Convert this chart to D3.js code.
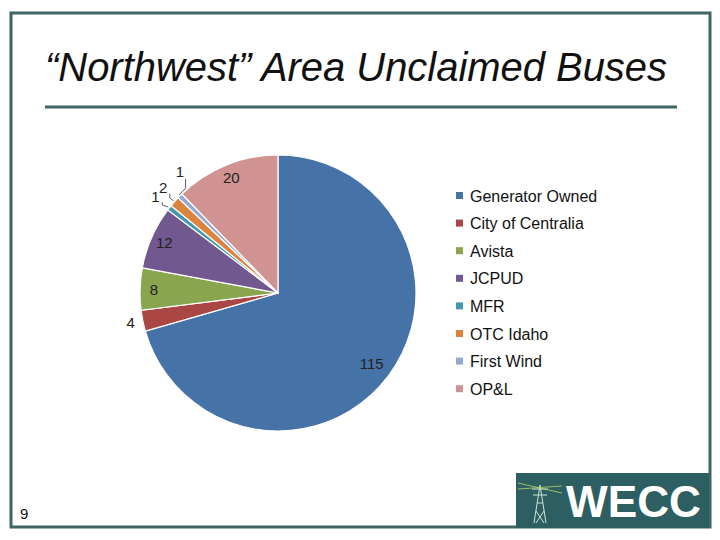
<!DOCTYPE html>
<html>
<head>
<meta charset="utf-8">
<script src="https://cdn.jsdelivr.net/npm/d3@7"></script>
<style>
  body { margin: 0; background: #fff; }
  text { font-family: "Liberation Sans", Arial, sans-serif; }
</style>
</head>
<body>
<div class="chart"></div>
<script>
var svgWidth = 720;
var svgHeight = 540;

// chart data
var categories = ["Generator Owned", "City of Centralia", "Avista", "JCPUD", "MFR", "OTC Idaho", "First Wind", "OP&L"];
var values = [115, 4, 8, 12, 1, 2, 1, 20];
var colors = ["#4572A7", "#AA4643", "#89A54E", "#71588F", "#4198AF", "#DB843D", "#93A9CF", "#D19392"];

var svg = d3.select(".chart")
  .append("svg")
  .attr("width", svgWidth)
  .attr("height", svgHeight);

// slide frame
svg.append("rect")
  .attr("x", 11).attr("y", 13)
  .attr("width", 699).attr("height", 514)
  .attr("fill", "none")
  .attr("stroke", "#3f6565")
  .attr("stroke-width", 3);

// title
svg.append("text")
  .attr("x", 45).attr("y", 81)
  .attr("font-size", 40)
  .attr("font-style", "italic")
  .attr("textLength", 622)
  .attr("lengthAdjust", "spacingAndGlyphs")
  .style("font-family", "'Liberation Sans Narrow', 'Liberation Sans', Arial, sans-serif")
  .attr("fill", "#111")
  .text("\u201CNorthwest\u201D Area Unclaimed Buses");

svg.append("line")
  .attr("x1", 45).attr("x2", 677)
  .attr("y1", 107).attr("y2", 107)
  .attr("stroke", "#3f6565")
  .attr("stroke-width", 3);

// pie
var radius = 138;
var chartGroup = svg.append("g")
  .attr("transform", "translate(278, 293)");

var pie = d3.pie().sort(null).value(d => d.value);
var data = categories.map((c, i) => ({ name: c, value: values[i], color: colors[i] }));
var arcs = pie(data);

var arc = d3.arc().innerRadius(0).outerRadius(radius);

chartGroup.selectAll("path")
  .data(arcs)
  .enter()
  .append("path")
  .attr("d", arc)
  .attr("fill", d => d.data.color)
  .attr("stroke", "#fff")
  .attr("stroke-width", 1.2);

// label placement: big slices inside, thin ones outside with a leader
function polar(angle, r) {
  return [Math.sin(angle) * r, -Math.cos(angle) * r];
}
var total = d3.sum(values);
arcs.forEach(function(d, i) {
  var mid = (d.startAngle + d.endAngle) / 2;
  var share = d.data.value / total;
  var r, nudge = 0;
  if (share > 0.3) r = radius * 0.85;
  else if (share >= 0.045) r = radius * 0.9;
  else if (share >= 0.02) r = radius * 1.09;
  else r = radius * 1.13;
  if (i === 6) nudge = 0.11; // keep the two tiny labels apart
  if (i === 5) nudge = 0.02;
  var p = polar(mid + nudge, r);
  chartGroup.append("text")
    .attr("x", p[0]).attr("y", p[1])
    .attr("text-anchor", "middle")
    .attr("dy", "0.35em")
    .attr("font-size", 15)
    .attr("fill", "#222")
    .text(d.data.value);
  if (d.data.value <= 2) {
    var a = polar(mid, radius * 1.01);
    var b = polar(mid + nudge, r - 9);
    chartGroup.append("polyline")
      .attr("points", [a, [b[0], a[1] + (b[1] - a[1]) * 0.4], b].map(q => q.join(",")).join(" "))
      .attr("fill", "none")
      .attr("stroke", "#333")
      .attr("stroke-width", 0.8);
  }
});

// legend
var legend = svg.append("g").attr("transform", "translate(456, 196)");
var rowH = 27.6;
var rows = legend.selectAll("g")
  .data(data)
  .enter()
  .append("g")
  .attr("transform", (d, i) => `translate(0, ${i * rowH})`);
rows.append("rect")
  .attr("x", 0).attr("y", -4)
  .attr("width", 7).attr("height", 7)
  .attr("fill", d => d.color);
rows.append("text")
  .attr("x", 14).attr("y", 0)
  .attr("dy", "0.35em")
  .attr("font-size", 16)
  .attr("fill", "#111")
  .text(d => d.name);

// page number
svg.append("text")
  .attr("x", 20).attr("y", 519)
  .attr("font-size", 15)
  .attr("fill", "#111")
  .text("9");

// WECC logo
var logo = svg.append("g").attr("transform", "translate(516, 473)");
logo.append("rect")
  .attr("width", 193).attr("height", 55)
  .attr("fill", "#2d5f62");
// little transmission tower
var tw = logo.append("g").attr("stroke", "#cfe3d8").attr("stroke-width", 1).attr("fill", "none");
tw.append("polyline").attr("points", "18,50 24,12 30,50");
tw.append("polyline").attr("points", "20,38 28,50 ");
tw.append("polyline").attr("points", "28,38 20,50");
tw.append("line").attr("x1", 16).attr("x2", 32).attr("y1", 16).attr("y2", 16);
tw.append("line").attr("x1", 17).attr("x2", 31).attr("y1", 22).attr("y2", 22);
tw.append("line").attr("x1", 21).attr("x2", 27).attr("y1", 30).attr("y2", 30);
var wires = logo.append("g").attr("stroke", "#b5d36a").attr("stroke-width", 0.8);
wires.append("line").attr("x1", 2).attr("x2", 46).attr("y1", 10).attr("y2", 20);
wires.append("line").attr("x1", 2).attr("x2", 46).attr("y1", 16).attr("y2", 13);
logo.append("text")
  .attr("x", 50).attr("y", 44)
  .attr("font-size", 44)
  .attr("font-weight", "bold")
  .attr("fill", "#fff")
  .attr("textLength", 135)
  .attr("lengthAdjust", "spacingAndGlyphs")
  .text("WECC");
</script>
</body>
</html>
